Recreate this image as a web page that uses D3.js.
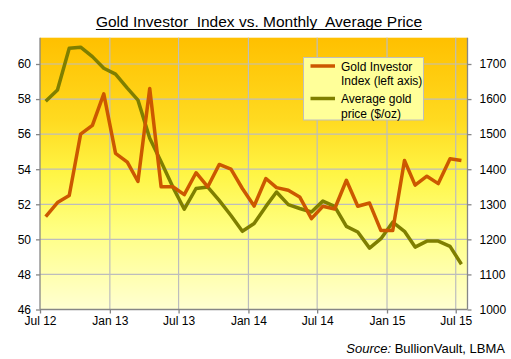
<!DOCTYPE html>
<html><head><meta charset="utf-8">
<script src="https://cdn.jsdelivr.net/npm/d3@7"></script>
<style>body{margin:0;background:#fff}svg{display:block}</style>
</head><body>
<script>
const months = ["2012-07","2012-08","2012-09","2012-10","2012-11","2012-12",
"2013-01","2013-02","2013-03","2013-04","2013-05","2013-06","2013-07","2013-08","2013-09","2013-10","2013-11","2013-12",
"2014-01","2014-02","2014-03","2014-04","2014-05","2014-06","2014-07","2014-08","2014-09","2014-10","2014-11","2014-12",
"2015-01","2015-02","2015-03","2015-04","2015-05","2015-06","2015-07"];
const investorIndex = [51.3,52.1,52.5,56.0,56.5,58.3,54.9,54.4,53.3,58.6,53.0,53.0,52.55,53.8,53.0,54.27,54.0,52.9,
51.9,53.47,52.95,52.8,52.42,51.18,51.89,51.73,53.37,51.89,52.07,50.5,50.5,54.5,53.09,53.6,53.18,54.6,54.5];
const goldPrice = [1594,1626,1745,1748,1721,1688,1671,1631,1597,1488,1421,1349,1286,1345,1349,1311,1268,1223,
1245,1294,1335,1299,1288,1278,1309,1294,1237,1221,1175,1202,1249,1223,1178,1195,1195,1180,1129];
const leftTicks = [46,48,50,52,54,56,58,60];
const rightTicks = [1000,1100,1200,1300,1400,1500,1600,1700];
const xTicks = ["2012-07","2013-01","2013-07","2014-01","2014-07","2015-01","2015-07"];
const xTickLabels = ["Jul 12","Jan 13","Jul 13","Jan 14","Jul 14","Jan 15","Jul 15"];

const W=511,H=359, L=40, R=467.5, T=37.7, B=309.5;
const parse = d3.timeParse("%Y-%m");
const svg = d3.select("body").append("svg").attr("width",W).attr("height",H)
  .style("font-family","'Liberation Sans', Arial, sans-serif");

const x = d3.scaleTime().domain([parse("2012-07"), new Date(2015,7,1)]).range([L,R]);
const yL = d3.scaleLinear().domain([46,61.5]).range([B,T]);
const yR = d3.scaleLinear().domain([1000,1775]).range([B,T]);
const mid = m => { const d=parse(m); return new Date(d.getFullYear(), d.getMonth(), 16); };

const defs = svg.append("defs");
const g = defs.append("linearGradient").attr("id","bg").attr("x1",0).attr("x2",0).attr("y1",0).attr("y2",1);
[[0,"#FFC000"],[0.3,"#FFDA20"],[0.5,"#FFF545"],[0.7,"#FFFF80"],[1,"#FFFFD2"]].forEach(s=>
  g.append("stop").attr("offset",s[0]).attr("stop-color",s[1]));

svg.append("rect").attr("x",L).attr("y",T).attr("width",R-L).attr("height",B-T).attr("fill","url(#bg)");

// gridlines
svg.append("g").selectAll("line").data(leftTicks.slice(1)).join("line")
  .attr("x1",L).attr("x2",R).attr("y1",d=>yL(d)).attr("y2",d=>yL(d))
  .attr("stroke","#BDBDBD").attr("stroke-width",1.2);
svg.append("g").selectAll("line").data(xTicks.slice(1)).join("line")
  .attr("x1",d=>x(parse(d))).attr("x2",d=>x(parse(d))).attr("y1",T).attr("y2",B)
  .attr("stroke","#BDBDBD").attr("stroke-width",1.2);

// axes
const axisStyle = sel => { sel.selectAll("path,line").attr("stroke","#868686").attr("stroke-width",1.3);
  sel.selectAll("text").attr("fill","#000").style("font-size","12px").style("font-family","'Liberation Sans', Arial, sans-serif"); };
svg.append("g").attr("transform",`translate(${L},0)`)
  .call(d3.axisLeft(yL).tickValues(leftTicks).tickSize(4).tickSizeOuter(0).tickPadding(5)).call(axisStyle)
  .call(s=>s.select(".domain").attr("d",`M0,${T}V${B}`));
svg.append("g").attr("transform",`translate(${R},0)`)
  .call(d3.axisRight(yR).tickValues(rightTicks).tickFormat(d3.format("d")).tickSize(4).tickSizeOuter(0).tickPadding(8)).call(axisStyle)
  .call(s=>s.select(".domain").attr("d",`M0,${T}V${B}`));
svg.append("g").attr("transform",`translate(0,${B})`)
  .call(d3.axisBottom(x).tickValues(xTicks.map(parse)).tickFormat((d,i)=>xTickLabels[i]).tickSize(4).tickSizeOuter(0).tickPadding(3)).call(axisStyle)
  .call(s=>s.select(".domain").attr("d",`M${L},0H${R}`));

// lines
const lineL = d3.line().x((d,i)=>x(mid(months[i]))).y(d=>yL(d));
const lineR = d3.line().x((d,i)=>x(mid(months[i]))).y(d=>yR(d));
svg.append("path").attr("d",lineR(goldPrice)).attr("fill","none").attr("stroke","#7F7F00").attr("stroke-width",3.5).attr("stroke-linejoin","round");
svg.append("path").attr("d",lineL(investorIndex)).attr("fill","none").attr("stroke","#CC5800").attr("stroke-width",3.5).attr("stroke-linejoin","round");

// legend
const lg = svg.append("g");
lg.append("rect").attr("x",303.5).attr("y",57.5).attr("width",120).attr("height",62.5)
  .attr("fill","#FFFF99").attr("stroke","#BFBFBF").attr("stroke-width",1);
lg.append("line").attr("x1",310.5).attr("x2",335).attr("y1",66).attr("y2",66).attr("stroke","#CC5800").attr("stroke-width",3.5);
lg.append("line").attr("x1",310.5).attr("x2",335).attr("y1",98.5).attr("y2",98.5).attr("stroke","#7F7F00").attr("stroke-width",3.5);
[["Gold Investor",70.5],["Index (left axis)",85],["Average gold",103],["price ($/oz)",117.5]].forEach(t=>
  lg.append("text").attr("x",341).attr("y",t[1]).text(t[0]).style("font-size","12px").attr("fill","#000"));

// title
const title = svg.append("text").attr("x",259).attr("y",27).attr("text-anchor","middle")
  .style("font-size","15.5px").attr("fill","#000").style("white-space","pre").attr("xml:space","preserve")
  .text("Gold Investor  Index vs. Monthly  Average Price");
const bb = title.node().getBBox();
svg.append("line").attr("x1",bb.x).attr("x2",bb.x+bb.width).attr("y1",29.5).attr("y2",29.5).attr("stroke","#000").attr("stroke-width",1);

// source
const src = svg.append("text").attr("x",505).attr("y",353).attr("text-anchor","end").style("font-size","13px").attr("fill","#000");
src.append("tspan").style("font-style","italic").text("Source:");
src.append("tspan").text(" BullionVault, LBMA");
</script>
</body></html>
